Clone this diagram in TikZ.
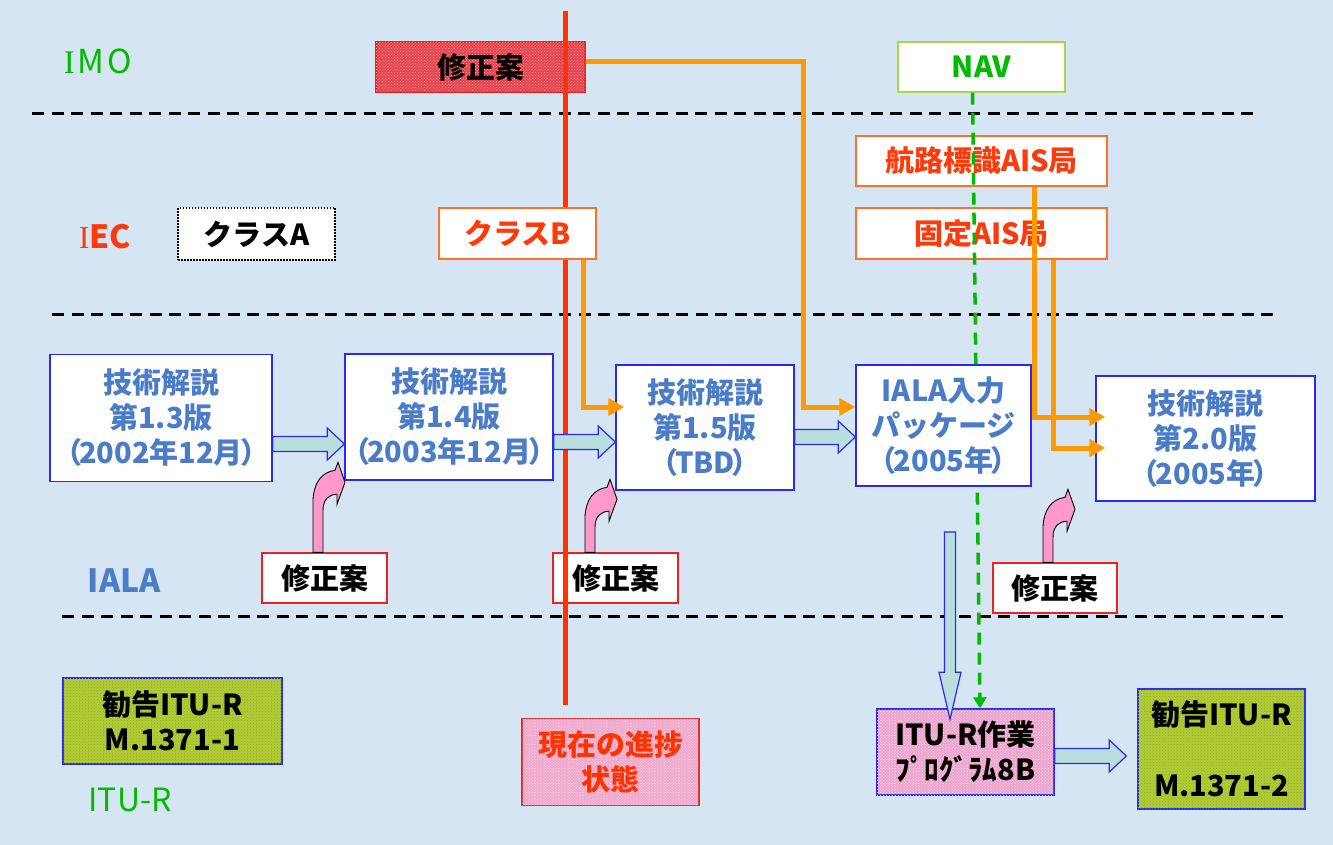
\documentclass[tikz,border=0pt]{standalone}
\usepackage{fontspec}
\setmainfont{Noto Sans CJK JP}
\newfontfamily\lserif{Liberation Serif}
\usetikzlibrary{arrows.meta,calc,patterns}
\definecolor{bgc}{HTML}{D6E5F4}
\definecolor{iblue}{HTML}{4A7CC8}
\definecolor{bblue}{HTML}{2A2AF0}
\definecolor{orln}{HTML}{FF9900}
\definecolor{ored}{HTML}{FF3A0A}
\definecolor{oedge}{HTML}{FF7028}
\definecolor{gtxt}{HTML}{00BB00}
\definecolor{navb}{HTML}{A8D848}
\definecolor{pinkf}{HTML}{FF99CC}
\definecolor{tealf}{HTML}{B9DEDD}
\definecolor{rfill}{HTML}{EC3A44}
\definecolor{fixred}{HTML}{EE2020}
\definecolor{ygf}{HTML}{B2CC38}
\definecolor{ygdark}{HTML}{98B020}
\definecolor{pnow}{HTML}{F2A6CA}
\definecolor{p8b}{HTML}{EEA2CC}
\definecolor{redln}{HTML}{FF3300}
\newcommand\pline[1]{\makebox[180pt]{（\kern-3pt #1\kern-3pt）}}
\newcommand\hfat[3]{%
  \draw[fatarr] let \p1=(#1), \p2=(#2), \p3=(#3) in
   (\x1,\y3+7.5pt) -- (\x2-17pt,\y3+7.5pt) -- (\x2-17pt,\y3+16pt) -- (\x2,\y3)
   -- (\x2-17pt,\y3-16pt) -- (\x2-17pt,\y3-7.5pt) -- (\x1,\y3-7.5pt) -- cycle;}
\begin{document}
\begin{tikzpicture}[x=1pt,y=-1pt,
 txt/.style={inner sep=0pt, align=center, font=\fontsize{29}{35}\selectfont\bfseries},
 box/.style={txt, draw, line width=1.4pt, fill=white},
 sz/.style 2 args={minimum width=#1pt, minimum height=#2pt},
 ialabox/.style={box, draw=bblue, text=iblue},
 fixbox/.style={box, draw=fixred, text=black},
 aisbox/.style={box, draw=oedge, text=ored},
 recbox/.style={box, draw=bblue, fill=ygf, text=black, postaction={pattern=crosshatch dots, pattern color=ygdark}},
 fatarr/.style={draw=bblue, fill=tealf, line width=1.2pt, line join=miter},
 orline/.style={draw=orln, line width=5pt, -{Triangle[length=16pt,width=17pt]}},
 hsep/.style={black, line width=3pt, dash pattern=on 12pt off 7.5pt},
 gdash/.style={draw=gtxt, line width=3.5pt, dash pattern=on 12pt off 8pt, -{Triangle[length=11pt,width=13pt]}},
 redline/.style={draw=redln, line width=5pt},
 pics/curvup/.style={code={
   \filldraw[fill=pinkf, draw=black, line width=0.9pt]
     (0,0) -- (0,-36-#1) .. controls (1,-52-#1) and (8,-63-#1) .. (22,-65-#1)
     -- (25,-73-#1) -- (32,-53-#1) -- (24,-31-#1) -- (24,-41-#1)
     .. controls (16,-41-#1) and (10,-36-#1) .. (10,-25-#1) -- (10,0) -- cycle;}}
]
\fill[bgc] (0,0) rectangle (1333,845);
\useasboundingbox (0,0) rectangle (1333,845);

% separators
\draw[hsep] (32,114) -- (1255,114);
\draw[hsep] (52,314) -- (1275,314);
\draw[hsep] (62,616) -- (1283,616);

% row labels
\node[inner sep=0pt, text=gtxt, font=\fontsize{33}{33}\selectfont] (limo) at (98,61) {{\lserif I}\hspace{3pt}M\hspace{3pt}O};
\node[inner sep=0pt, text=ored, font=\fontsize{32}{32}\selectfont\bfseries] (liec) at (105,237) {{\lserif\mdseries I}EC};
\node[inner sep=0pt, text=iblue, font=\fontsize{32}{32}\selectfont\bfseries] (liala) at (124,581) {IALA};
\node[inner sep=0pt, text=gtxt, font=\fontsize{32}{32}\selectfont] (litu) at (130,800) {ITU-R};

% boxes below lines
\node[box, draw=fixred, fill=rfill, text=black, sz={209}{50}, postaction={pattern=crosshatch dots, pattern color=white!75!rfill}] (imofix) at (480.5,67) {修正案};
\node[fixbox, sz={125}{50}] (fix2) at (615.5,578) {修正案};
\node[box, draw=navb, text=gtxt, sz={167}{50}] (nav) at (981.5,67) {NAV};

% red progress line
\coordinate (rtop) at (565,11);
\node[box, draw=fixred, fill=pnow, text=redln, sz={177}{87}, postaction={pattern=crosshatch dots, pattern color=white!70!pnow}] (now) at (610.5,762) {現在の進捗\\状態};
\draw[redline] (rtop) -- ($(rtop |- now.north)+(0,-13)$);

\node[aisbox, sz={251}{50}] (koro) at (981.5,161) {航路標識AIS局};
\node[aisbox, sz={251}{51}] (kotei) at (981.5,233.5) {固定AIS局};
\node[box, draw=black, dash pattern=on 1.5pt off 1.5pt, text=black, sz={157}{52}] (clsA) at (256.5,234) {クラスA};
\node[aisbox, sz={157}{51}] (clsB) at (517.5,233.5) {クラスB};

\node[ialabox, sz={222}{127}] (v13) at (161,418) {技術解説\\第1.3版\\\pline{2002年12月}};
\node[ialabox, sz={208}{126}] (v14) at (449,417) {技術解説\\第1.4版\\\pline{2003年12月}};
\node[ialabox, sz={178}{125}] (v15) at (705,427.5) {技術解説\\第1.5版\\（\kern-3pt TBD\kern-3pt）};
\node[ialabox, sz={219}{125}] (v20) at (1205.5,438.5) {技術解説\\第2.0版\\（\kern-3pt 2005年\kern-3pt）};

\node[fixbox, sz={125}{50}] (fix1) at (324.5,578) {修正案};
\node[fixbox, sz={124}{50}] (fix3) at (1055,588) {修正案};

\node[recbox, sz={219}{86}] (rec1) at (172.5,721) {勧告ITU-R\\M.1371-1};
\node[box, draw=bblue, fill=p8b, text=black, sz={177}{86}, postaction={pattern=crosshatch dots, pattern color=white!70!p8b}] (itu8b) at (965.5,752) {ITU-R作業\\ﾌﾟﾛｸﾞﾗﾑ8B};
\node[recbox, sz={167}{120}] (rec2) at (1221.5,749) {勧告ITU-R\\[36pt]M.1371-2};

% green dashed NAV line
\draw[gdash] ($(nav.south)+(-9,0)$) -- ($(itu8b.north)+(14.5,0)$);

\node[ialabox, sz={175}{121}] (pkg) at (943.5,425.5) {IALA入力\\パッケージ\\（\kern-3pt 2005年\kern-3pt）};

% orange connectors
\coordinate (c1) at (803,407);
\draw[orline] ($(imofix.east)+(0,-5)$) -| (c1) -- (pkg.west |- c1);
\draw[orline] ($(clsB.south)+(66,0)$) |- ($(v15.west |- c1)+(9,0)$);
\draw[orline] ($(koro.south)+(53,0)$) |- ($(v20.west)+(10,-21.5)$);
\draw[orline] ($(kotei.south)+(72,0)$) |- ($(v20.west)+(10,9.5)$);

% fat arrows
\coordinate (ya) at (0,444);
\coordinate (yb) at (0,442);
\coordinate (yc) at (0,437);
\coordinate (yd) at (0,756);
\hfat{v13.east}{v14.west}{ya}
\hfat{v14.east}{v15.west}{yb}
\hfat{v15.east}{pkg.west}{yc}
\hfat{itu8b.east}{$(rec2.west)+(-11,0)$}{yd}
\coordinate (vstart) at (950,532);
\draw[fatarr] let \p1=(vstart), \p2=(itu8b.north) in
  (\x1-5.5pt,\y1) -- (\x1-5.5pt,\y2+36pt) -- (\x1-11pt,\y2+36pt) -- (\x1,\y2-11pt)
  -- (\x1+11pt,\y2+36pt) -- (\x1+5.5pt,\y2+36pt) -- (\x1+5.5pt,\y1) -- cycle;

% pink curved arrows
\pic at ($(fix1.north)+(-11.5,0)$) {curvup=17};
\pic at ($(fix2.north)+(-30.5,0)$) {curvup=0};
\pic at ($(fix3.north)+(-12,0)$) {curvup=0};
\end{tikzpicture}
\end{document}
